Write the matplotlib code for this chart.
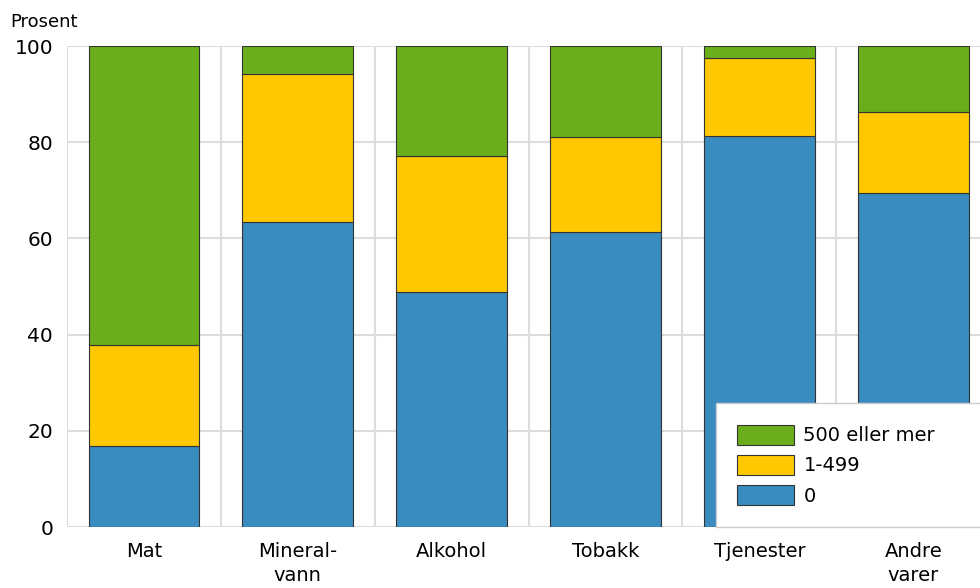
# stacked bars: share by amount category
import matplotlib
matplotlib.use("Agg")
import matplotlib.pyplot as plt
import numpy as np

plt.rcParams['font.family'] = ['DejaVu Sans']

# data
categories = ["Mat", "Mineral-\nvann", "Alkohol", "Tobakk", "Tjenester", "Andre\nvarer"]
zero = [16.8, 63.4, 48.9, 61.3, 81.3, 69.4]
low = [21.0, 30.8, 28.2, 19.8, 16.2, 16.9]      # 1-499
high = [62.2, 5.8, 22.9, 18.9, 2.5, 13.7]      # 500 eller mer

fig = plt.figure(figsize=(9.8, 5.88), dpi=100)
ax = fig.add_axes([0.0684, 0.1037, 0.942, 0.818])

x = np.arange(len(categories))
w = 0.72
ax.bar(x, zero, w, color='#3a8bc0', edgecolor='#333333', linewidth=0.8, label='0', zorder=3)
ax.bar(x, low, w, bottom=zero, color='#ffc800', edgecolor='#333333', linewidth=0.8, label='1-499', zorder=3)
bottom2 = np.array(zero) + np.array(low)
ax.bar(x, high, w, bottom=bottom2, color='#6aaf1b', edgecolor='#333333', linewidth=0.8, label='500 eller mer', zorder=3)

ax.set_xlim(-0.5, len(categories) - 0.5)
ax.set_ylim(0, 100)
ax.set_yticks([0, 20, 40, 60, 80, 100])
ax.set_xticks(x)
ax.set_xticklabels(categories, fontsize=14, linespacing=1.3)
ax.tick_params(axis='y', labelsize=14.5, length=0, pad=10)
ax.tick_params(axis='x', length=0, pad=11)

# grid: horizontal lines and vertical lines between categories
ax.set_xticks(np.arange(-0.5, len(categories), 1), minor=True)
ax.grid(axis='y', color='#dddddd', linewidth=1.5, zorder=0)
ax.grid(axis='x', which='minor', color='#dddddd', linewidth=1.5, zorder=0)
ax.tick_params(axis='x', which='minor', length=0)
for s in ax.spines.values():
    s.set_visible(False)

fig.text(0.010, 0.962, "Prosent", fontsize=13, va='center', ha='left')

# legend, reversed order, running off the right edge
h, l = ax.get_legend_handles_labels()
leg = ax.legend(h[::-1], l[::-1], loc='lower left', bbox_to_anchor=(0.7306, 0.1037, 0.32, 0.2),
                bbox_transform=fig.transFigure, mode='expand', fontsize=14, frameon=True,
                framealpha=1, fancybox=False, edgecolor='#cccccc', handlelength=2.9,
                handleheight=1.2, labelspacing=0.5, borderpad=1.1, handletextpad=0.5,
                borderaxespad=0)
leg.get_frame().set_linewidth(1.0)
leg.set_zorder(5)

plt.savefig("out.png", dpi=100)
